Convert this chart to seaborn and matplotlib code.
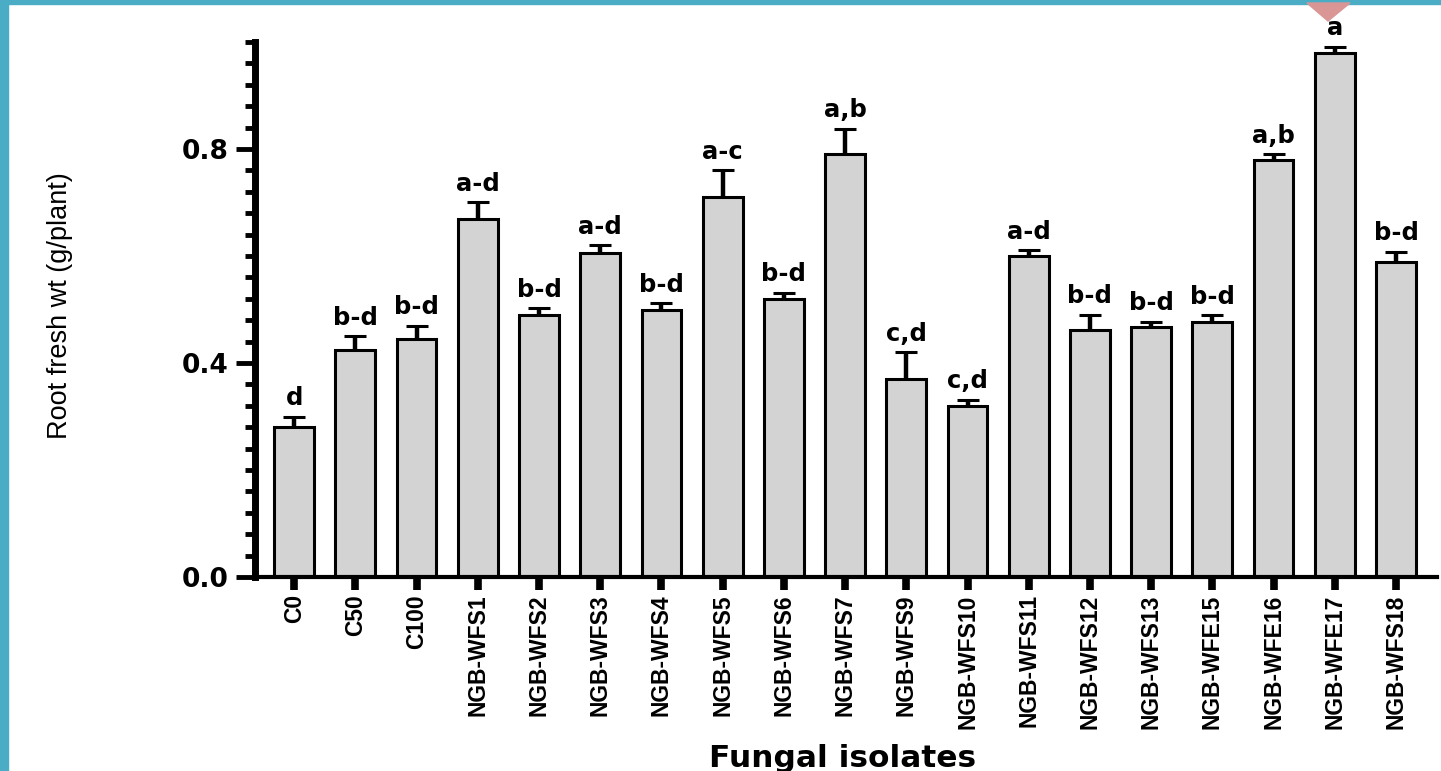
import numpy as np
import pandas as pd
import matplotlib
matplotlib.use("Agg")
import matplotlib.pyplot as plt
from matplotlib import font_manager
from matplotlib.patches import Polygon, Rectangle
import seaborn as sns

# Root fresh weight per treatment (mean, upper error) and significance letters
isolates = ["C0", "C50", "C100", "NGB-WFS1", "NGB-WFS2", "NGB-WFS3", "NGB-WFS4",
            "NGB-WFS5", "NGB-WFS6", "NGB-WFS7", "NGB-WFS9", "NGB-WFS10",
            "NGB-WFS11", "NGB-WFS12", "NGB-WFS13", "NGB-WFE15", "NGB-WFE16",
            "NGB-WFE17", "NGB-WFS18"]
root_fresh_wt = [0.28, 0.425, 0.445, 0.67, 0.49, 0.605, 0.50, 0.71, 0.52, 0.79,
                 0.37, 0.32, 0.60, 0.462, 0.467, 0.477, 0.78, 0.98, 0.588]
error = [0.02, 0.025, 0.025, 0.03, 0.012, 0.015, 0.012, 0.05, 0.011, 0.048,
         0.05, 0.011, 0.011, 0.028, 0.010, 0.012, 0.010, 0.011, 0.020]
letters = ["d", "b-d", "b-d", "a-d", "b-d", "a-d", "b-d", "a-c", "b-d", "a,b",
           "c,d", "c,d", "a-d", "b-d", "b-d", "b-d", "a,b", "a", "b-d"]
y_ticks = [0.0, 0.4, 0.8]
y_tick_labels = ["0.0", "0.4", "0.8"]

df = pd.DataFrame({"isolate": isolates, "weight": root_fresh_wt})

sns.set_style("ticks")
plt.rcParams.update({"text.color": "black", "axes.labelcolor": "black",
                     "xtick.color": "black", "ytick.color": "black"})

available = {f.name for f in font_manager.fontManager.ttflist}
if "Liberation Sans Narrow" in available:
    narrow, tick_size, ylab_size = "Liberation Sans Narrow", 19.5, 23
else:
    narrow, tick_size, ylab_size = "Liberation Sans", 16.5, 19.5

W, H = 1441, 771
fig = plt.figure(figsize=(W / 100, H / 100), dpi=100)
ax = fig.add_axes([255 / W, 194 / H, 1182 / W, 535 / H])

sns.barplot(data=df, x="isolate", y="weight", color="#d3d3d3", saturation=1,
            edgecolor="black", linewidth=2.2, width=0.65, errorbar=None, ax=ax)

x = np.arange(len(isolates))
vals = np.array(root_fresh_wt)
errs = np.array(error)
eb = ax.errorbar(x, vals, yerr=[np.zeros_like(errs), errs], fmt="none",
                 ecolor="black", elinewidth=3.2, capsize=8, capthick=2.2, zorder=3)
# keep only the upper caps
eb[1][0].set_visible(False)

for xi, v, e, lab in zip(x, vals, errs, letters):
    ax.text(xi, v + e + 0.012, lab, ha="center", va="bottom", color="black",
            fontsize=17.5, fontweight="bold", family="DejaVu Sans", zorder=4)

ax.set_xlim(-0.64, 18.67)
ax.set_ylim(0, 1.0)
ax.set_yticks(y_ticks)
ax.set_yticklabels(y_tick_labels, fontsize=19, fontweight="bold", family="DejaVu Sans")
ax.set_yticks(np.arange(0.04, 1.0001, 0.04), minor=True)
ax.tick_params(axis="y", which="major", length=14, width=3.5, pad=5,
               color="black", labelcolor="black")
ax.tick_params(axis="y", which="minor", length=7, width=3.5, color="black")
ax.tick_params(axis="x", which="major", length=9, width=5.5, pad=3.5,
               color="black", labelcolor="black")
ax.set_xticks(x)
ax.set_xticklabels(isolates, rotation=90, fontsize=tick_size, fontweight="bold",
                   family=narrow)

for side in ["top", "right"]:
    ax.spines[side].set_visible(False)
ax.spines["left"].set_linewidth(5)
ax.spines["bottom"].set_linewidth(3)
ax.spines["left"].set_color("black")
ax.spines["bottom"].set_color("black")

ax.set_ylabel("Root fresh wt (g/plant)", fontsize=ylab_size, family=narrow,
              va="center", ha="center", color="black")
ax.yaxis.set_label_coords((60 - 255) / 1182, 0.507)
ax.set_xlabel("Fungal isolates", fontsize=22.5, fontweight="bold",
              family="DejaVu Sans", va="baseline", ha="center", color="black")
ax.xaxis.set_label_coords((843 - 255) / 1182, (577 - 767) / 535)

# slide frame: teal border on the top and left edges, pink marker at the top
fig.patches.append(Rectangle((0, 0), 8 / W, 1, transform=fig.transFigure,
                             color="#4bacc6", zorder=10))
fig.patches.append(Rectangle((0, 1 - 4 / H), 1, 4 / H, transform=fig.transFigure,
                             color="#4bacc6", zorder=10))
fig.patches.append(Polygon([(1307 / W, 1 - 3 / H), (1350 / W, 1 - 3 / H),
                            (1328 / W, 1 - 21 / H)], closed=True,
                           transform=fig.transFigure, color="#d99694", zorder=11))

fig.savefig("out.png", dpi=100)
